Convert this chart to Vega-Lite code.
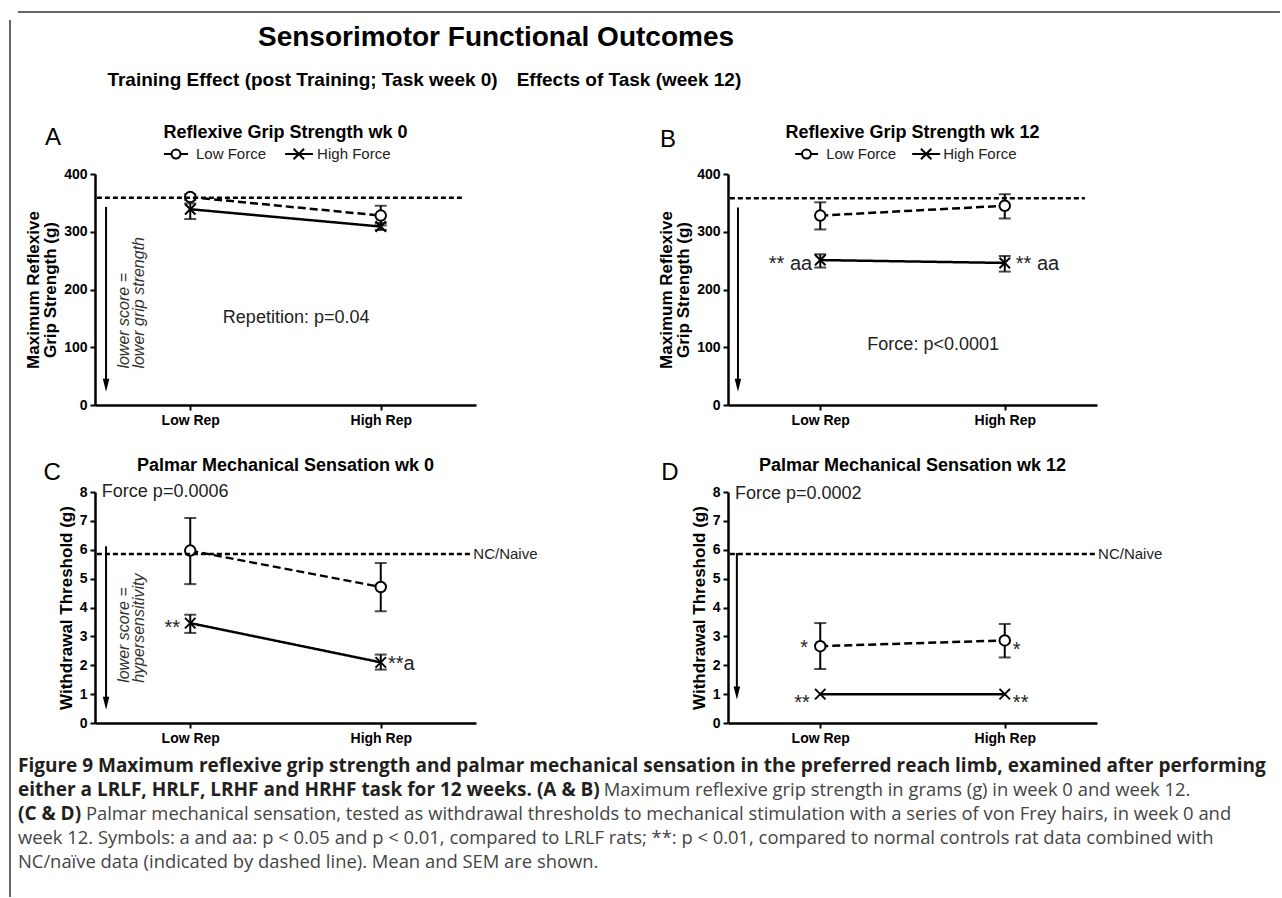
{
  "$schema": "https://vega.github.io/schema/vega-lite/v6.json",
  "background": "white",
  "padding": {"left": 9, "top": 0, "right": 0, "bottom": 0},
  "autosize": {"type": "pad"},
  "bounds": "flush",
  "align": "each",
  "columns": 2,
  "spacing": {"row": 87, "column": 252},
  "resolve": {"scale": {"shape": "independent", "strokeDash": "independent"}, "legend": {"shape": "independent", "strokeDash": "independent"}},
  "config": {
    "view": {"stroke": null},
    "font": "Liberation Sans",
    "axis": {
      "domainColor": "black", "domainWidth": 2.5, "tickColor": "black", "tickWidth": 2, "tickSize": 5,
      "labelFont": "Liberation Sans", "labelFontWeight": "bold", "labelFontSize": 14, "labelColor": "black",
      "titleFont": "Liberation Sans", "titleFontWeight": "bold", "titleFontSize": 17, "titleColor": "black",
      "grid": false, "labelPadding": 3, "titlePadding": 4, "labelOverlap": false
    },
    "title": {"font": "Liberation Sans", "fontSize": 18, "fontWeight": "bold", "color": "black", "frame": "group", "anchor": "middle"}
  },
  "datasets": {
    "grip": [
      {"week": 0, "rep": "Low Rep", "force": "Low Force", "mean": 360, "lo": 355, "hi": 365},
      {"week": 0, "rep": "High Rep", "force": "Low Force", "mean": 328, "lo": 311, "hi": 345},
      {"week": 0, "rep": "Low Rep", "force": "High Force", "mean": 339, "lo": 322, "hi": 349},
      {"week": 0, "rep": "High Rep", "force": "High Force", "mean": 309, "lo": 303, "hi": 315},
      {"week": 12, "rep": "Low Rep", "force": "Low Force", "mean": 328, "lo": 304, "hi": 351},
      {"week": 12, "rep": "High Rep", "force": "Low Force", "mean": 345, "lo": 323, "hi": 365},
      {"week": 12, "rep": "Low Rep", "force": "High Force", "mean": 251, "lo": 238, "hi": 261},
      {"week": 12, "rep": "High Rep", "force": "High Force", "mean": 246, "lo": 231, "hi": 258}
    ],
    "sens": [
      {"week": 0, "rep": "Low Rep", "force": "Low Force", "mean": 5.97, "lo": 4.81, "hi": 7.1},
      {"week": 0, "rep": "High Rep", "force": "Low Force", "mean": 4.71, "lo": 3.87, "hi": 5.54},
      {"week": 0, "rep": "Low Rep", "force": "High Force", "mean": 3.46, "lo": 3.12, "hi": 3.75},
      {"week": 0, "rep": "High Rep", "force": "High Force", "mean": 2.1, "lo": 1.85, "hi": 2.37},
      {"week": 12, "rep": "Low Rep", "force": "Low Force", "mean": 2.66, "lo": 1.87, "hi": 3.46},
      {"week": 12, "rep": "High Rep", "force": "Low Force", "mean": 2.86, "lo": 2.27, "hi": 3.43},
      {"week": 12, "rep": "Low Rep", "force": "High Force", "mean": 1.0, "lo": null, "hi": null},
      {"week": 12, "rep": "High Rep", "force": "High Force", "mean": 1.0, "lo": null, "hi": null}
    ],
    "notes": [
      {"panel": "A", "kind": "ref", "fx": 0.005, "fx2": 0.966, "y": 359},
      {"panel": "A", "kind": "arrow", "fx": 0.029, "y": 343, "y2": 40},
      {"panel": "A", "kind": "head", "fx": 0.029, "y": 34},
      {"panel": "A", "kind": "vtext", "fx": 0.077, "y": 63, "text": ["lower score =", "lower grip strength"]},
      {"panel": "A", "kind": "stat", "fx": 0.528, "y": 150, "text": "Repetition: p=0.04"},
      {"panel": "A", "kind": "legLine", "fx": 0.181, "fx2": 0.244, "y": 434.6},
      {"panel": "A", "kind": "legLine", "fx": 0.499, "fx2": 0.572, "y": 434.6},
      {"panel": "A", "kind": "legO", "fx": 0.2126, "y": 434.6},
      {"panel": "A", "kind": "legX", "fx": 0.535, "y": 434.6},
      {"panel": "A", "kind": "legT", "fx": 0.265, "y": 434.6, "text": "Low Force"},
      {"panel": "A", "kind": "legT", "fx": 0.583, "y": 434.6, "text": "High Force"},
      {"panel": "B", "kind": "ref", "fx": 0.005, "fx2": 0.967, "y": 358},
      {"panel": "B", "kind": "arrow", "fx": 0.027, "y": 342, "y2": 40},
      {"panel": "B", "kind": "head", "fx": 0.027, "y": 34},
      {"panel": "B", "kind": "starR", "fx": 0.228, "y": 245, "text": "** aa"},
      {"panel": "B", "kind": "starL", "fx": 0.78, "y": 245, "text": "** aa"},
      {"panel": "B", "kind": "stat", "fx": 0.556, "y": 104, "text": "Force: p<0.0001"},
      {"panel": "B", "kind": "legLine", "fx": 0.182, "fx2": 0.244, "y": 434.6},
      {"panel": "B", "kind": "legLine", "fx": 0.499, "fx2": 0.575, "y": 434.6},
      {"panel": "B", "kind": "legO", "fx": 0.2127, "y": 434.6},
      {"panel": "B", "kind": "legX", "fx": 0.537, "y": 434.6},
      {"panel": "B", "kind": "legT", "fx": 0.266, "y": 434.6, "text": "Low Force"},
      {"panel": "B", "kind": "legT", "fx": 0.583, "y": 434.6, "text": "High Force"},
      {"panel": "C", "kind": "ref", "fx": 0.005, "fx2": 0.99, "y": 5.85},
      {"panel": "C", "kind": "nc", "fx": 0.993, "y": 5.85, "text": "NC/Naive"},
      {"panel": "C", "kind": "arrow", "fx": 0.029, "y": 6.12, "y2": 0.75},
      {"panel": "C", "kind": "head", "fx": 0.029, "y": 0.685},
      {"panel": "C", "kind": "vtext", "fx": 0.077, "y": 1.39, "text": ["lower score =", "hypersensitivity"]},
      {"panel": "C", "kind": "statL", "fx": 0.018, "y": 7.99, "text": "Force p=0.0006"},
      {"panel": "C", "kind": "starR", "fx": 0.223, "y": 3.3, "text": "**"},
      {"panel": "C", "kind": "starL", "fx": 0.769, "y": 2.05, "text": "**a"},
      {"panel": "D", "kind": "ref", "fx": 0.005, "fx2": 0.995, "y": 5.85},
      {"panel": "D", "kind": "nc", "fx": 1.003, "y": 5.85, "text": "NC/Naive"},
      {"panel": "D", "kind": "arrow", "fx": 0.024, "y": 5.89, "y2": 1.1},
      {"panel": "D", "kind": "head", "fx": 0.024, "y": 1.035},
      {"panel": "D", "kind": "statL", "fx": 0.019, "y": 7.92, "text": "Force p=0.0002"},
      {"panel": "D", "kind": "starR", "fx": 0.217, "y": 2.6, "text": "*"},
      {"panel": "D", "kind": "starL", "fx": 0.772, "y": 2.52, "text": "*"},
      {"panel": "D", "kind": "starR", "fx": 0.222, "y": 0.68, "text": "**"},
      {"panel": "D", "kind": "starL", "fx": 0.772, "y": 0.7, "text": "**"}
    ],
    "fig": [
      {"side": "L", "kind": "main", "fx": 0.3869, "fy": 0.0423, "text": "Sensorimotor Functional  Outcomes"},
      {"side": "L", "kind": "section", "fx": 0.236, "fy": 0.0891, "text": "Training Effect (post Training; Task week 0)"},
      {"side": "R", "kind": "section", "fx": 0.4906, "fy": 0.0891, "text": "Effects of  Task (week 12)"},
      {"side": "L", "kind": "letter", "fx": 0.0413, "fy": 0.1537, "text": "A"},
      {"side": "L", "kind": "letter", "fx": 0.521, "fy": 0.1559, "text": "B"},
      {"side": "L", "kind": "letter", "fx": 0.0406, "fy": 0.5267, "text": "C"},
      {"side": "L", "kind": "letter", "fx": 0.5226, "fy": 0.5267, "text": "D"},
      {"side": "L", "kind": "frameV", "fx": 0.0078, "fy": 0.0223, "fy2": 0.999},
      {"side": "L", "kind": "frameH", "fx": 0.014, "fx2": 0.9984, "fy": 0.01336},
      {"side": "L", "kind": "capB", "fx": 0.014, "fy": 0.853, "text": "Figure 9 Maximum reflexive grip strength and palmar mechanical sensation in the preferred reach limb, examined after performing"},
      {"side": "L", "kind": "capB", "fx": 0.014, "fy": 0.8797, "text": "either a LRLF, HRLF, LRHF and HRHF task for 12 weeks. (A & B)"},
      {"side": "L", "kind": "capR", "fx": 0.471, "fy": 0.8797, "text": "Maximum reflexive grip strength in grams (g) in week 0 and week 12."},
      {"side": "L", "kind": "capB", "fx": 0.014, "fy": 0.9065, "text": "(C & D)"},
      {"side": "L", "kind": "capR", "fx": 0.067, "fy": 0.9065, "text": "Palmar mechanical sensation, tested as withdrawal thresholds to mechanical stimulation with a series of von Frey hairs, in week 0 and"},
      {"side": "L", "kind": "capR", "fx": 0.014, "fy": 0.9332, "text": "week 12. Symbols: a and aa: p < 0.05 and p < 0.01, compared to LRLF rats; **: p < 0.01, compared to normal controls rat data combined with"},
      {"side": "L", "kind": "capR", "fx": 0.014, "fy": 0.96, "text": "NC/naïve data (indicated by dashed line). Mean and SEM are shown."}
    ]
  },
  "concat": [
    {
      "width": 381, "height": 87,
      "data": {"name": "fig"},
      "transform": [{"filter": "datum.side === 'L'"}],
      "encoding": {
        "x": {"field": "fx", "type": "quantitative", "scale": {"domain": [0, 1], "range": [-95, 1187], "nice": false, "zero": false}, "axis": null},
        "y": {"field": "fy", "type": "quantitative", "scale": {"domain": [0, 1], "range": [0, 898], "nice": false, "zero": false}, "axis": null}
      },
      "layer": [
        {"transform": [{"filter": "datum.kind === 'frameV'"}], "mark": {"type": "rule", "color": "#333", "strokeWidth": 1.5}, "encoding": {"y2": {"field": "fy2"}}},
        {"transform": [{"filter": "datum.kind === 'frameH'"}], "mark": {"type": "rule", "color": "#333", "strokeWidth": 1.5}, "encoding": {"x2": {"field": "fx2"}}},
        {"transform": [{"filter": "datum.kind === 'main'"}], "mark": {"type": "text", "font": "Liberation Sans", "fontSize": 28, "fontWeight": "bold", "align": "center", "baseline": "middle", "color": "black"}, "encoding": {"text": {"field": "text"}}},
        {"transform": [{"filter": "datum.kind === 'section'"}], "mark": {"type": "text", "font": "Liberation Sans", "fontSize": 19, "fontWeight": "bold", "align": "center", "baseline": "middle", "color": "black"}, "encoding": {"text": {"field": "text"}}},
        {"transform": [{"filter": "datum.kind === 'letter'"}], "mark": {"type": "text", "font": "Liberation Sans", "fontSize": 24, "align": "center", "baseline": "middle", "color": "black"}, "encoding": {"text": {"field": "text"}}},
        {"transform": [{"filter": "datum.kind === 'capB'"}], "mark": {"type": "text", "font": "Open Sans", "fontSize": 19, "fontWeight": "bold", "align": "left", "baseline": "middle", "color": "#231f20"}, "encoding": {"text": {"field": "text"}}},
        {"transform": [{"filter": "datum.kind === 'capR'"}], "mark": {"type": "text", "font": "Open Sans", "fontSize": 18.4, "align": "left", "baseline": "middle", "color": "#444"}, "encoding": {"text": {"field": "text"}}}
      ]
    },
    {
      "width": 369, "height": 87,
      "data": {"name": "fig"},
      "transform": [{"filter": "datum.side === 'R'"}],
      "mark": {"type": "text", "font": "Liberation Sans", "fontSize": 19, "fontWeight": "bold", "align": "center", "baseline": "middle", "color": "black"},
      "encoding": {
        "x": {"field": "fx", "type": "quantitative", "scale": {"domain": [0, 1], "range": [-728, 554], "nice": false, "zero": false}, "axis": null},
        "y": {"field": "fy", "type": "quantitative", "scale": {"domain": [0, 1], "range": [0, 898], "nice": false, "zero": false}, "axis": null},
        "text": {"field": "text"}
      }
    },
    {
      "width": 381, "height": 231,
      "title": {"text": "Reflexive Grip  Strength wk 0", "offset": 3},
      "resolve": {"scale": {"x": "independent"}},
      "layer": [
        {
          "data": {"name": "grip"},
          "transform": [{"filter": "datum.week === 0"}],
          "encoding": {
            "x": {"field": "rep", "type": "nominal", "sort": null, "scale": {"type": "point", "domain": ["Low Rep", "High Rep"], "padding": 0.5}, "axis": {"title": null, "labelAngle": 0}},
            "y": {"field": "mean", "type": "quantitative", "scale": {"domain": [0, 400], "nice": false}, "axis": {"title": ["Maximum Reflexive", "Grip Strength (g)"], "values": [0, 100, 200, 300, 400], "titleLineHeight": 17}}
          },
          "layer": [
            {"transform": [{"filter": "datum.lo != null"}], "mark": {"type": "errorbar", "color": "black", "thickness": 2, "ticks": {"size": 12, "thickness": 2}}, "encoding": {"y": {"field": "lo", "type": "quantitative"}, "y2": {"field": "hi"}}},
            {"mark": {"type": "line", "color": "black", "strokeWidth": 2.5}, "encoding": {"strokeDash": {"field": "force", "type": "nominal", "scale": {"domain": ["High Force", "Low Force"], "range": [[1, 0], [8, 4]]}, "legend": null}}},
            {"mark": {"type": "point", "filled": true, "fill": "white", "stroke": "black", "strokeWidth": 2, "opacity": 1, "size": 110},
             "encoding": {"shape": {"field": "force", "type": "nominal", "scale": {"domain": ["Low Force", "High Force"], "range": ["circle", "M-1,-1L1,1M-1,1L1,-1"]}, "legend": null}}}
          ]
        },
        {
          "data": {"name": "notes"},
          "transform": [{"filter": "datum.panel === 'A'"}],
          "encoding": {
            "x": {"field": "fx", "type": "quantitative", "scale": {"domain": [0, 1], "nice": false, "zero": false}, "axis": null},
            "y": {"field": "y", "type": "quantitative", "scale": {"domain": [0, 400], "nice": false}, "axis": {"title": ["Maximum Reflexive", "Grip Strength (g)"], "values": [0, 100, 200, 300, 400], "titleLineHeight": 17}}
          },
          "layer": [
            {"transform": [{"filter": "datum.kind === 'ref'"}], "mark": {"type": "rule", "strokeDash": [5, 3], "strokeWidth": 2.5, "color": "black"}, "encoding": {"x2": {"field": "fx2"}}},
            {"transform": [{"filter": "datum.kind === 'legLine'"}], "mark": {"type": "rule", "strokeWidth": 2, "color": "black"}, "encoding": {"x2": {"field": "fx2"}}},
            {"transform": [{"filter": "datum.kind === 'legO'"}], "mark": {"type": "point", "shape": "circle", "size": 80, "filled": true, "fill": "white", "stroke": "black", "strokeWidth": 2, "opacity": 1}},
            {"transform": [{"filter": "datum.kind === 'legX'"}], "mark": {"type": "point", "shape": "M-1,-1L1,1M-1,1L1,-1", "size": 110, "filled": false, "stroke": "black", "strokeWidth": 2, "opacity": 1}},
            {"transform": [{"filter": "datum.kind === 'legT'"}], "mark": {"type": "text", "align": "left", "baseline": "middle", "fontSize": 15, "color": "#222"}, "encoding": {"text": {"field": "text"}}},
            {"transform": [{"filter": "datum.kind === 'arrow'"}], "mark": {"type": "rule", "strokeWidth": 2, "color": "black"}, "encoding": {"y2": {"field": "y2"}}},
            {"transform": [{"filter": "datum.kind === 'head'"}], "mark": {"type": "point", "shape": "M-0.5,-1L0.5,-1L0,1Z", "size": 169, "filled": true, "color": "black", "opacity": 1}},
            {"transform": [{"filter": "datum.kind === 'vtext'"}], "mark": {"type": "text", "angle": 270, "align": "left", "baseline": "middle", "fontStyle": "italic", "fontSize": 16, "lineHeight": 15, "color": "#333"}, "encoding": {"text": {"field": "text"}}},
            {"transform": [{"filter": "datum.kind === 'stat'"}], "mark": {"type": "text", "align": "center", "baseline": "middle", "fontSize": 18, "color": "#222"}, "encoding": {"text": {"field": "text"}}}
          ]
        }
      ]
    },
    {
      "width": 369, "height": 231,
      "title": {"text": "Reflexive Grip  Strength wk 12", "offset": 3},
      "resolve": {"scale": {"x": "independent"}},
      "layer": [
        {
          "data": {"name": "grip"},
          "transform": [{"filter": "datum.week === 12"}],
          "encoding": {
            "x": {"field": "rep", "type": "nominal", "sort": null, "scale": {"type": "point", "domain": ["Low Rep", "High Rep"], "padding": 0.5}, "axis": {"title": null, "labelAngle": 0}},
            "y": {"field": "mean", "type": "quantitative", "scale": {"domain": [0, 400], "nice": false}, "axis": {"title": ["Maximum Reflexive", "Grip Strength (g)"], "values": [0, 100, 200, 300, 400], "titleLineHeight": 17}}
          },
          "layer": [
            {"transform": [{"filter": "datum.lo != null"}], "mark": {"type": "errorbar", "color": "black", "thickness": 2, "ticks": {"size": 12, "thickness": 2}}, "encoding": {"y": {"field": "lo", "type": "quantitative"}, "y2": {"field": "hi"}}},
            {"mark": {"type": "line", "color": "black", "strokeWidth": 2.5}, "encoding": {"strokeDash": {"field": "force", "type": "nominal", "scale": {"domain": ["High Force", "Low Force"], "range": [[1, 0], [8, 4]]}, "legend": null}}},
            {"mark": {"type": "point", "filled": true, "fill": "white", "stroke": "black", "strokeWidth": 2, "opacity": 1, "size": 110},
             "encoding": {"shape": {"field": "force", "type": "nominal", "scale": {"domain": ["Low Force", "High Force"], "range": ["circle", "M-1,-1L1,1M-1,1L1,-1"]}, "legend": null}}}
          ]
        },
        {
          "data": {"name": "notes"},
          "transform": [{"filter": "datum.panel === 'B'"}],
          "encoding": {
            "x": {"field": "fx", "type": "quantitative", "scale": {"domain": [0, 1], "nice": false, "zero": false}, "axis": null},
            "y": {"field": "y", "type": "quantitative", "scale": {"domain": [0, 400], "nice": false}, "axis": {"title": ["Maximum Reflexive", "Grip Strength (g)"], "values": [0, 100, 200, 300, 400], "titleLineHeight": 17}}
          },
          "layer": [
            {"transform": [{"filter": "datum.kind === 'ref'"}], "mark": {"type": "rule", "strokeDash": [5, 3], "strokeWidth": 2.5, "color": "black"}, "encoding": {"x2": {"field": "fx2"}}},
            {"transform": [{"filter": "datum.kind === 'legLine'"}], "mark": {"type": "rule", "strokeWidth": 2, "color": "black"}, "encoding": {"x2": {"field": "fx2"}}},
            {"transform": [{"filter": "datum.kind === 'legO'"}], "mark": {"type": "point", "shape": "circle", "size": 80, "filled": true, "fill": "white", "stroke": "black", "strokeWidth": 2, "opacity": 1}},
            {"transform": [{"filter": "datum.kind === 'legX'"}], "mark": {"type": "point", "shape": "M-1,-1L1,1M-1,1L1,-1", "size": 110, "filled": false, "stroke": "black", "strokeWidth": 2, "opacity": 1}},
            {"transform": [{"filter": "datum.kind === 'legT'"}], "mark": {"type": "text", "align": "left", "baseline": "middle", "fontSize": 15, "color": "#222"}, "encoding": {"text": {"field": "text"}}},
            {"transform": [{"filter": "datum.kind === 'arrow'"}], "mark": {"type": "rule", "strokeWidth": 2, "color": "black"}, "encoding": {"y2": {"field": "y2"}}},
            {"transform": [{"filter": "datum.kind === 'head'"}], "mark": {"type": "point", "shape": "M-0.5,-1L0.5,-1L0,1Z", "size": 169, "filled": true, "color": "black", "opacity": 1}},
            {"transform": [{"filter": "datum.kind === 'starR'"}], "mark": {"type": "text", "align": "right", "baseline": "middle", "fontSize": 20, "color": "#222"}, "encoding": {"text": {"field": "text"}}},
            {"transform": [{"filter": "datum.kind === 'starL'"}], "mark": {"type": "text", "align": "left", "baseline": "middle", "fontSize": 20, "color": "#222"}, "encoding": {"text": {"field": "text"}}},
            {"transform": [{"filter": "datum.kind === 'stat'"}], "mark": {"type": "text", "align": "center", "baseline": "middle", "fontSize": 18, "color": "#222"}, "encoding": {"text": {"field": "text"}}}
          ]
        }
      ]
    },
    {
      "width": 381, "height": 231,
      "title": {"text": "Palmar Mechanical Sensation wk 0", "offset": 8},
      "resolve": {"scale": {"x": "independent"}},
      "layer": [
        {
          "data": {"name": "sens"},
          "transform": [{"filter": "datum.week === 0"}],
          "encoding": {
            "x": {"field": "rep", "type": "nominal", "sort": null, "scale": {"type": "point", "domain": ["Low Rep", "High Rep"], "padding": 0.5}, "axis": {"title": null, "labelAngle": 0}},
            "y": {"field": "mean", "type": "quantitative", "scale": {"domain": [0, 8], "nice": false}, "axis": {"title": "Withdrawal  Threshold (g)", "values": [0, 1, 2, 3, 4, 5, 6, 7, 8]}}
          },
          "layer": [
            {"transform": [{"filter": "datum.lo != null"}], "mark": {"type": "errorbar", "color": "black", "thickness": 2, "ticks": {"size": 12, "thickness": 2}}, "encoding": {"y": {"field": "lo", "type": "quantitative"}, "y2": {"field": "hi"}}},
            {"mark": {"type": "line", "color": "black", "strokeWidth": 2.5}, "encoding": {"strokeDash": {"field": "force", "type": "nominal", "scale": {"domain": ["High Force", "Low Force"], "range": [[1, 0], [8, 4]]}, "legend": null}}},
            {"mark": {"type": "point", "filled": true, "fill": "white", "stroke": "black", "strokeWidth": 2, "opacity": 1, "size": 110},
             "encoding": {"shape": {"field": "force", "type": "nominal", "scale": {"domain": ["Low Force", "High Force"], "range": ["circle", "M-1,-1L1,1M-1,1L1,-1"]}, "legend": null}}}
          ]
        },
        {
          "data": {"name": "notes"},
          "transform": [{"filter": "datum.panel === 'C'"}],
          "encoding": {
            "x": {"field": "fx", "type": "quantitative", "scale": {"domain": [0, 1], "nice": false, "zero": false}, "axis": null},
            "y": {"field": "y", "type": "quantitative", "scale": {"domain": [0, 8], "nice": false}, "axis": {"title": "Withdrawal  Threshold (g)", "values": [0, 1, 2, 3, 4, 5, 6, 7, 8]}}
          },
          "layer": [
            {"transform": [{"filter": "datum.kind === 'ref'"}], "mark": {"type": "rule", "strokeDash": [5, 3], "strokeWidth": 2.5, "color": "black"}, "encoding": {"x2": {"field": "fx2"}}},
            {"transform": [{"filter": "datum.kind === 'arrow'"}], "mark": {"type": "rule", "strokeWidth": 2, "color": "black"}, "encoding": {"y2": {"field": "y2"}}},
            {"transform": [{"filter": "datum.kind === 'head'"}], "mark": {"type": "point", "shape": "M-0.5,-1L0.5,-1L0,1Z", "size": 169, "filled": true, "color": "black", "opacity": 1}},
            {"transform": [{"filter": "datum.kind === 'vtext'"}], "mark": {"type": "text", "angle": 270, "align": "left", "baseline": "middle", "fontStyle": "italic", "fontSize": 16, "lineHeight": 15, "color": "#333"}, "encoding": {"text": {"field": "text"}}},
            {"transform": [{"filter": "datum.kind === 'statL'"}], "mark": {"type": "text", "align": "left", "baseline": "middle", "fontSize": 18, "color": "#222"}, "encoding": {"text": {"field": "text"}}},
            {"transform": [{"filter": "datum.kind === 'nc'"}], "mark": {"type": "text", "align": "left", "baseline": "middle", "fontSize": 15, "color": "#222"}, "encoding": {"text": {"field": "text"}}},
            {"transform": [{"filter": "datum.kind === 'starR'"}], "mark": {"type": "text", "align": "right", "baseline": "middle", "fontSize": 20, "color": "#222"}, "encoding": {"text": {"field": "text"}}},
            {"transform": [{"filter": "datum.kind === 'starL'"}], "mark": {"type": "text", "align": "left", "baseline": "middle", "fontSize": 20, "color": "#222"}, "encoding": {"text": {"field": "text"}}}
          ]
        }
      ]
    },
    {
      "width": 369, "height": 231,
      "title": {"text": "Palmar Mechanical Sensation wk 12", "offset": 10},
      "resolve": {"scale": {"x": "independent"}},
      "layer": [
        {
          "data": {"name": "sens"},
          "transform": [{"filter": "datum.week === 12"}],
          "encoding": {
            "x": {"field": "rep", "type": "nominal", "sort": null, "scale": {"type": "point", "domain": ["Low Rep", "High Rep"], "padding": 0.5}, "axis": {"title": null, "labelAngle": 0}},
            "y": {"field": "mean", "type": "quantitative", "scale": {"domain": [0, 8], "nice": false}, "axis": {"title": "Withdrawal  Threshold (g)", "values": [0, 1, 2, 3, 4, 5, 6, 7, 8]}}
          },
          "layer": [
            {"transform": [{"filter": "datum.lo != null"}], "mark": {"type": "errorbar", "color": "black", "thickness": 2, "ticks": {"size": 12, "thickness": 2}}, "encoding": {"y": {"field": "lo", "type": "quantitative"}, "y2": {"field": "hi"}}},
            {"mark": {"type": "line", "color": "black", "strokeWidth": 2.5}, "encoding": {"strokeDash": {"field": "force", "type": "nominal", "scale": {"domain": ["High Force", "Low Force"], "range": [[1, 0], [8, 4]]}, "legend": null}}},
            {"mark": {"type": "point", "filled": true, "fill": "white", "stroke": "black", "strokeWidth": 2, "opacity": 1, "size": 110},
             "encoding": {"shape": {"field": "force", "type": "nominal", "scale": {"domain": ["Low Force", "High Force"], "range": ["circle", "M-1,-1L1,1M-1,1L1,-1"]}, "legend": null}}}
          ]
        },
        {
          "data": {"name": "notes"},
          "transform": [{"filter": "datum.panel === 'D'"}],
          "encoding": {
            "x": {"field": "fx", "type": "quantitative", "scale": {"domain": [0, 1], "nice": false, "zero": false}, "axis": null},
            "y": {"field": "y", "type": "quantitative", "scale": {"domain": [0, 8], "nice": false}, "axis": {"title": "Withdrawal  Threshold (g)", "values": [0, 1, 2, 3, 4, 5, 6, 7, 8]}}
          },
          "layer": [
            {"transform": [{"filter": "datum.kind === 'ref'"}], "mark": {"type": "rule", "strokeDash": [5, 3], "strokeWidth": 2.5, "color": "black"}, "encoding": {"x2": {"field": "fx2"}}},
            {"transform": [{"filter": "datum.kind === 'arrow'"}], "mark": {"type": "rule", "strokeWidth": 2, "color": "black"}, "encoding": {"y2": {"field": "y2"}}},
            {"transform": [{"filter": "datum.kind === 'head'"}], "mark": {"type": "point", "shape": "M-0.5,-1L0.5,-1L0,1Z", "size": 169, "filled": true, "color": "black", "opacity": 1}},
            {"transform": [{"filter": "datum.kind === 'statL'"}], "mark": {"type": "text", "align": "left", "baseline": "middle", "fontSize": 18, "color": "#222"}, "encoding": {"text": {"field": "text"}}},
            {"transform": [{"filter": "datum.kind === 'nc'"}], "mark": {"type": "text", "align": "left", "baseline": "middle", "fontSize": 15, "color": "#222"}, "encoding": {"text": {"field": "text"}}},
            {"transform": [{"filter": "datum.kind === 'starR'"}], "mark": {"type": "text", "align": "right", "baseline": "middle", "fontSize": 20, "color": "#222"}, "encoding": {"text": {"field": "text"}}},
            {"transform": [{"filter": "datum.kind === 'starL'"}], "mark": {"type": "text", "align": "left", "baseline": "middle", "fontSize": 20, "color": "#222"}, "encoding": {"text": {"field": "text"}}}
          ]
        }
      ]
    }
  ]
}
